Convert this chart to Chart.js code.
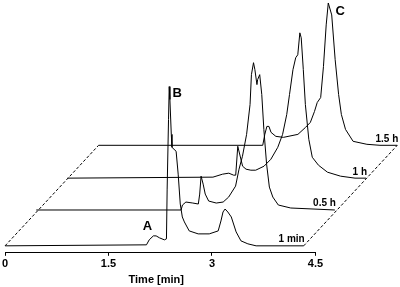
<!DOCTYPE html>
<html>
<head>
<meta charset="utf-8">
<script src="https://cdn.jsdelivr.net/npm/chart.js@4.4.1/dist/chart.umd.min.js"></script>
<style>
  html, body { margin: 0; padding: 0; background: #fff; }
  canvas { display: block; }
</style>
</head>
<body>
<canvas id="chromChart" width="400" height="287"></canvas>
<script>
// runs, front to back
const sampleLabels = ['1 min', '0.5 h', '1 h', '1.5 h'];
const xTicks = [0, 1.5, 3, 4.5];

// retention time [min] / relative signal
const time1min = [0, 2.05, 2.09, 2.15, 2.19, 2.24, 2.31, 2.34, 2.35, 2.37, 2.38, 2.39, 2.41, 2.42, 2.45, 2.48, 2.51, 2.54, 2.57, 2.60, 2.67, 2.80, 2.96, 3.09, 3.13, 3.16, 3.19, 3.23, 3.28, 3.35, 3.42, 3.52, 3.64, 4.33];
const signal1min = [0, 1, 6, 10, 10, 8, 6, 7, 57, 127, 160, 147, 112, 99, 97, 95, 72, 42, 29, 24, 15, 12, 12, 15, 25, 34, 37, 34, 29, 14, 5, 2, 0, 0];

const time05h = [0, 2.10, 2.12, 2.17, 2.27, 2.35, 2.37, 2.39, 2.42, 2.45, 2.50, 2.61, 2.71, 2.79, 2.89, 2.94, 2.99, 3.05, 3.10, 3.12, 3.15, 3.17, 3.20, 3.21, 3.24, 3.27, 3.30, 3.34, 3.38, 3.43, 3.51, 3.69, 4.33];
const signal05h = [0, 0, 5, 8, 7, 6, 16, 34, 26, 16, 9, 7, 8, 13, 24, 41, 54, 76, 106, 136, 148, 141, 126, 131, 136, 116, 81, 46, 23, 13, 5, 2, 0];

const time1h = [0, 2.11, 2.25, 2.34, 2.41, 2.44, 2.47, 2.54, 2.59, 2.66, 2.73, 2.85, 2.95, 3.05, 3.12, 3.18, 3.22, 3.27, 3.31, 3.34, 3.37, 3.39, 3.42, 3.45, 3.50, 3.55, 3.64, 3.77, 3.96, 4.17, 4.33];
const signal1h = [0, 1, 4, 5, 3, 3, 32, 12, 9, 8, 8, 12, 19, 31, 44, 64, 84, 109, 121, 124, 146, 141, 109, 74, 39, 21, 13, 6, 2, 0, 0];

const time15h = [0, 2.38, 2.41, 2.44, 2.47, 2.50, 2.57, 2.68, 2.89, 3.00, 3.07, 3.13, 3.17, 3.22, 3.26, 3.30, 3.33, 3.38, 3.43, 3.48, 3.52, 3.58, 3.69, 3.89, 4.08, 4.33];
const signal15h = [0, 0, 11, 19, 19, 13, 9, 8, 11, 18, 23, 34, 43, 48, 79, 121, 143, 131, 86, 51, 31, 16, 4, 1, 0, 0];

const runTimes = [time1min, time05h, time1h, time15h];
const runSignals = [signal1min, signal05h, signal1h, signal15h];

// waterfall offsets (layout only)
const stepTime = 0.452;
const stepSignal = [0, 36, 68, 101];
const runEnd = 4.33;

const datasets = runTimes.map((times, i) => ({
    label: sampleLabels[i],
    data: times.map((t, j) => ({ x: t + i * stepTime, y: runSignals[i][j] + stepSignal[i] })),
    borderColor: '#000',
    borderWidth: 1,
    pointRadius: 0,
    tension: 0,
    fill: false
}));

const font = 'bold 11px "Liberation Sans", Arial, sans-serif';

// axis line, dashed frame and the text labels
const waterfallDecor = {
    id: 'waterfallDecor',
    afterDatasetsDraw(chart) {
        const { ctx, chartArea } = chart;
        const x = chart.scales.x, y = chart.scales.y;
        const px = (t, s) => [x.getPixelForValue(t), y.getPixelForValue(s)];
        ctx.save();
        ctx.strokeStyle = '#000';
        ctx.lineWidth = 1;

        const axisY = Math.round(chartArea.bottom) + 0.5;
        ctx.beginPath();
        ctx.moveTo(x.getPixelForValue(0), axisY);
        ctx.lineTo(x.getPixelForValue(4.5), axisY);
        ctx.stroke();

        const last = sampleLabels.length - 1;
        ctx.setLineDash([3, 2]);
        ctx.beginPath();
        let a = px(0, 0), b = px(last * stepTime, stepSignal[last]);
        ctx.moveTo(a[0], a[1]); ctx.lineTo(b[0], b[1]);
        a = px(runEnd, 0); b = px(runEnd + last * stepTime, stepSignal[last]);
        ctx.moveTo(a[0], a[1]); ctx.lineTo(b[0], b[1]);
        ctx.stroke();
        ctx.setLineDash([]);

        ctx.fillStyle = '#000';
        ctx.font = 'bold 10px "Liberation Sans", Arial, sans-serif';
        ctx.textAlign = 'right';
        ctx.textBaseline = 'alphabetic';
        sampleLabels.forEach((lab, i) => {
            const p = px(runEnd + i * stepTime, stepSignal[i]);
            ctx.fillText(lab, p[0] + 1, p[1] - 3.5);
        });

        ctx.font = 'bold 13px "Liberation Sans", Arial, sans-serif';
        ctx.textAlign = 'center';
        ctx.textBaseline = 'middle';
        let p = px(2.15, 10);
        ctx.fillText('A', p[0] - 6, p[1] - 9);
        p = px(2.38, 160);
        ctx.fillText('B', p[0] + 8, p[1] + 7);
        p = px(3.33 + 3 * stepTime, 143 + stepSignal[3]);
        ctx.fillText('C', p[0] + 12, p[1] + 8);

        ctx.font = font;
        ctx.textBaseline = 'alphabetic';
        ctx.fillText('Time [min]', (x.getPixelForValue(0) + x.getPixelForValue(4.5)) / 2 - 4, 283);
        ctx.restore();
    }
};

new Chart(document.getElementById('chromChart'), {
    type: 'line',
    data: { datasets: datasets },
    options: {
        responsive: false,
        animation: false,
        layout: { padding: { left: 3, right: 0, top: 0, bottom: 14 } },
        plugins: { legend: { display: false }, tooltip: { enabled: false } },
        scales: {
            x: {
                type: 'linear',
                min: 0,
                max: 5.726,
                afterBuildTicks: scale => { scale.ticks = xTicks.map(v => ({ value: v })); },
                border: { display: false },
                grid: { drawOnChartArea: false, drawTicks: true, tickLength: 4, color: '#000' },
                ticks: {
                    padding: 2,
                    color: '#000',
                    font: { family: '"Liberation Sans", Arial, sans-serif', size: 11, weight: 'bold' },
                    maxRotation: 0
                }
            },
            y: {
                type: 'linear',
                display: false,
                min: -6,
                max: 247
            }
        }
    },
    plugins: [waterfallDecor]
});
</script>
</body>
</html>
